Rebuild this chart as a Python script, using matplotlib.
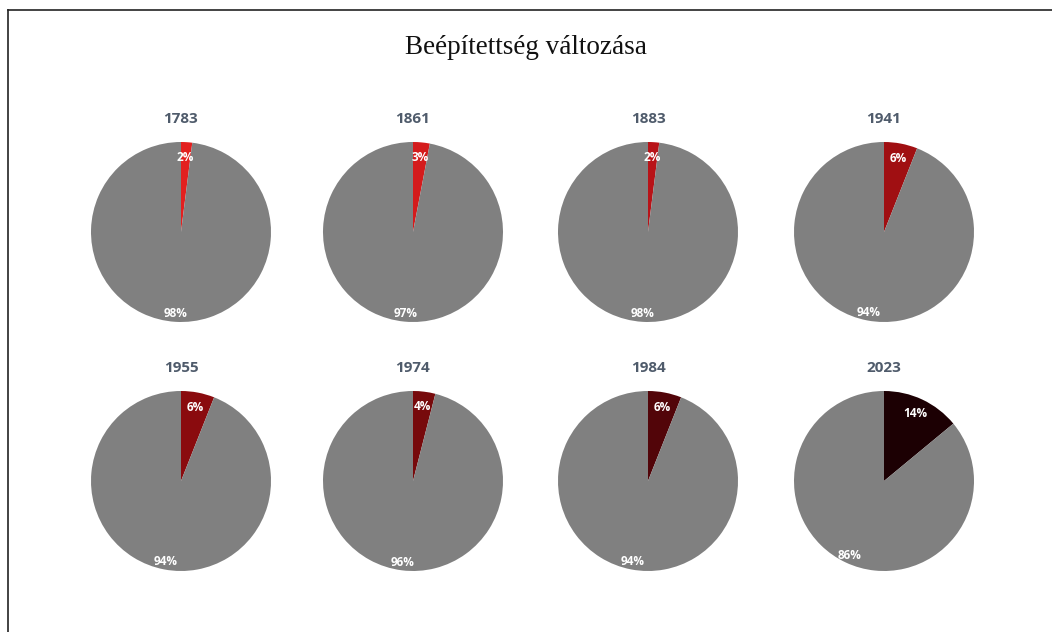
import matplotlib
matplotlib.use("Agg")
import matplotlib.pyplot as plt
from matplotlib.lines import Line2D

years = ["1783", "1861", "1883", "1941", "1955", "1974", "1984", "2023"]
built = [2, 3, 2, 6, 6, 4, 6, 14]
unbuilt = [98, 97, 98, 94, 94, 96, 94, 86]
built_colors = ["#e3201f", "#d41b1c", "#b81318", "#a00f12", "#8a0b0e", "#770a0c", "#520509", "#1c0003"]
grey = "#808080"
title = "Beépítettség változása"

W, H = 1052, 632
fig = plt.figure(figsize=(W / 100, H / 100), dpi=100)
fig.patch.set_facecolor("white")

# frame lines
fig.add_artist(Line2D([8 / W, 8 / W], [0, 1 - 10 / H], color="#222222", lw=1.2, transform=fig.transFigure))
fig.add_artist(Line2D([8 / W, 1], [1 - 10 / H, 1 - 10 / H], color="#222222", lw=1.2, transform=fig.transFigure))

fig.text(526 / W, 1 - 48 / H, title, ha="center", va="center", fontsize=19.5,
         family="Liberation Serif", color="#111111")

cx = [181, 413, 648, 884]
cy = [232, 481]
r = 90
for i, yr in enumerate(years):
    row, col = divmod(i, 4)
    x0 = (cx[col] - r) / W
    y0 = 1 - (cy[row] + r) / H
    ax = fig.add_axes([x0, y0, 2 * r / W, 2 * r / H])
    wedges, texts, autotexts = ax.pie(
        [built[i], unbuilt[i]], colors=[built_colors[i], grey], startangle=90,
        counterclock=False, autopct=lambda p: f"{p:.0f}%", pctdistance=0.83,
        wedgeprops=dict(linewidth=0), textprops=dict(color="white", fontsize=8.5,
                                                         fontweight="bold", family="Open Sans"))
    # push the large-slice label a bit further out
    import math
    w = wedges[1]
    mid = math.radians((w.theta1 + w.theta2) / 2)
    autotexts[1].set_position((0.91 * math.cos(mid), 0.91 * math.sin(mid)))
    ax.set_xlim(-1, 1)
    ax.set_ylim(-1, 1)
    ax.set_aspect("equal")
    ax.text(0, 1.26, yr, ha="center", va="center", fontsize=11, fontweight="bold",
            family="Open Sans", color="#4f5b6b", transform=ax.transData)

fig.savefig("out.png", dpi=100)
